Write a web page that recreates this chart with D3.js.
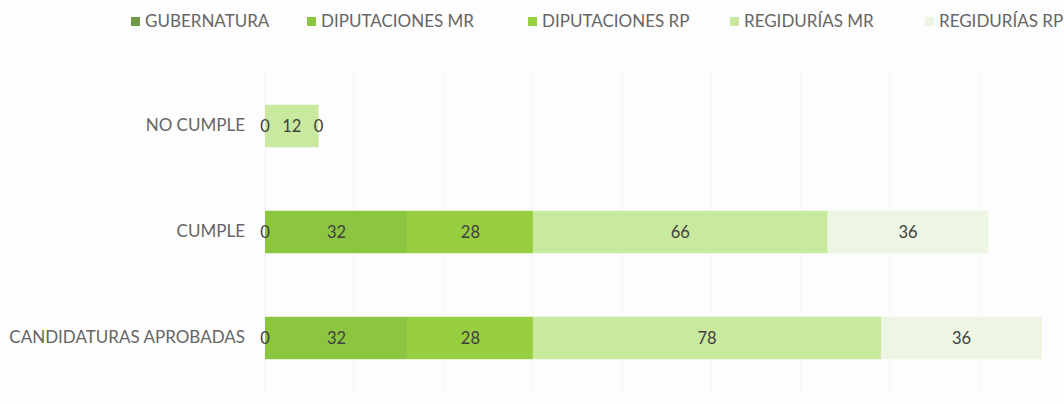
<!DOCTYPE html>
<html>
<head>
<meta charset="utf-8">
<script src="https://cdn.jsdelivr.net/npm/d3@7"></script>
<style>
  body { margin: 0; background: #fdfdfd; }
  svg { display: block; }
  text { font-family: Lato, "Open Sans", sans-serif; }
</style>
</head>
<body>
<svg id="chart" width="1064" height="404"></svg>
<script>
// categories, top to bottom
const categories = ['NO CUMPLE', 'CUMPLE', 'CANDIDATURAS APROBADAS']
const seriesNames = ['GUBERNATURA', 'DIPUTACIONES MR', 'DIPUTACIONES RP', 'REGIDURÍAS MR', 'REGIDURÍAS RP']
// values per series, in category order (null = no label shown)
const gubernatura = [0, 0, 0]
const diputacionesMR = [null, 32, 32]
const diputacionesRP = [null, 28, 28]
const regiduriasMR = [12, 66, 78]
const regiduriasRP = [0, 36, 36]
const seriesColors = ['#6f9a43', '#8cc540', '#98cf40', '#c9e99e', '#edf6e3']

const svg = d3.select('#chart')
const seriesValues = [gubernatura, diputacionesMR, diputacionesRP, regiduriasMR, regiduriasRP]

// build rows for the stack
const rows = categories.map((c, i) => {
  let row = {category: c}
  seriesNames.forEach((s, j) => { row[s] = seriesValues[j][i] })
  return row
})

const stack = d3.stack()
  .keys(seriesNames)
  .value((d, key) => d[key] == null ? 0 : d[key])
const layers = stack(rows)

const maxTotal = d3.max(rows, r => d3.sum(seriesNames, s => r[s] || 0))

const x = d3.scaleLinear().domain([0, maxTotal]).range([265, 1042])
const y = d3.scaleBand().domain(categories).range([73, 391]).paddingInner(0.6).paddingOuter(0.3)

// very faint vertical gridlines like in the scan
svg.append('g').selectAll('line')
  .data(x.ticks(6))
  .enter().append('line')
  .attr('x1', d => x(d)).attr('x2', d => x(d))
  .attr('y1', 70).attr('y2', 395)
  .attr('stroke', '#f6f6f6')
  .attr('stroke-width', 1)

// bars
const layerGroup = svg.append('g').attr('class', 'layers')
layerGroup.selectAll('g')
  .data(layers)
  .enter().append('g')
  .attr('fill', (d, i) => seriesColors[i])
  .selectAll('rect')
  .data(d => d)
  .enter().append('rect')
  .attr('x', d => x(d[0]))
  .attr('width', d => x(d[1]) - x(d[0]))
  .attr('y', d => y(d.data.category))
  .attr('height', y.bandwidth())

// value labels
const labelGroup = svg.append('g').attr('class', 'labels')
layers.forEach((layer, i) => {
  layer.forEach(d => {
    let v = d.data[layer.key]
    if (v == null) return
    labelGroup.append('text')
      .attr('x', (x(d[0]) + x(d[1])) / 2)
      .attr('y', y(d.data.category) + y.bandwidth() / 2)
      .attr('dy', '0.35em')
      .attr('text-anchor', 'middle')
      .attr('font-size', 16.5)
      .attr('fill', '#404040')
      .text(v)
  })
})

// category axis
const yAxis = svg.append('g')
  .attr('transform', 'translate(265,0)')
  .call(d3.axisLeft(y).tickSize(0).tickPadding(20))
yAxis.select('.domain').remove()
yAxis.selectAll('text')
  .attr('font-size', 17)
  .attr('fill', '#666666')
  .style('font-family', 'Lato, "Open Sans", sans-serif')

// legend
const legendX = [131, 307, 528, 730, 925]
const legend = svg.append('g').attr('class', 'legend')
  .selectAll('g')
  .data(seriesNames)
  .enter().append('g')
  .attr('transform', (d, i) => 'translate(' + legendX[i] + ',21)')
legend.append('rect')
  .attr('x', 0).attr('y', -4)
  .attr('width', 9).attr('height', 9)
  .attr('fill', (d, i) => seriesColors[i])
legend.append('text')
  .attr('x', 14)
  .attr('dy', '0.35em')
  .attr('font-size', 17)
  .attr('fill', '#666666')
  .text(d => d)
</script>
</body>
</html>
